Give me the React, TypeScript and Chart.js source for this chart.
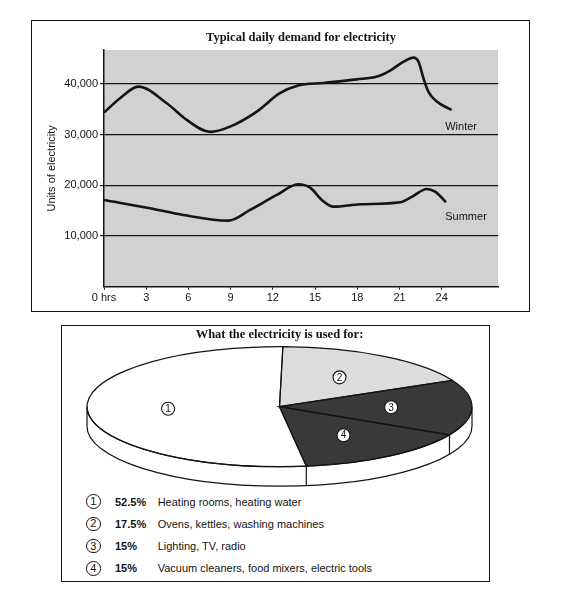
import React, { useEffect, useRef } from 'react';
import { Chart, registerables } from 'chart.js';

Chart.register(...registerables);

// ---------- data: daily demand ----------
const hourTicks = [0, 3, 6, 9, 12, 15, 18, 21, 24];
const unitTicks = [10000, 20000, 30000, 40000];

const winterHours = [0, 1.14, 2.44, 4.46, 5.88, 7.54, 8.96, 10.86, 12.5, 13.8, 15.6, 17.96, 19.4, 20.3, 21.3, 22.0, 22.35, 22.7, 23.05, 23.65, 24.7];
const winterUnits = [34350, 37190, 39480, 36200, 32900, 30540, 31580, 34550, 38180, 39700, 40200, 40900, 41450, 42580, 44400, 45200, 44400, 41140, 38500, 36520, 34880];

const summerHours = [0, 3.27, 5.64, 8.84, 10.38, 12.28, 13.8, 14.65, 15.48, 16.3, 18.2, 21.04, 21.9, 22.94, 23.53, 24.3];
const summerUnits = [17110, 15480, 14150, 13030, 15140, 18100, 20210, 19540, 17110, 15790, 16260, 16660, 17770, 19290, 18750, 16660];

const seasonNames = ['Winter', 'Summer'];

// ---------- data: what the electricity is used for ----------
const usageNumbers = ['1', '2', '3', '4'];
const usageShares = [52.5, 17.5, 15, 15];
const usageShareLabels = ['52.5%', '17.5%', '15%', '15%'];
const usageDescriptions = [
  'Heating rooms, heating water',
  'Ovens, kettles, washing machines',
  'Lighting, TV, radio',
  'Vacuum cleaners, food mixers, electric tools',
];

// ---------- styles ----------
const SANS = '"Liberation Sans", Arial, Helvetica, sans-serif';
const SERIF = '"Liberation Serif", "Times New Roman", serif';
const INK = '#141414';
const PLOT_GREY = '#d1d1d1';
const sliceColors = ['#ffffff', '#dcdcdc', '#393939', '#393939'];
const seasonLabelHours = [24.25, 24.25];
const seasonLabelUnits = [31500, 13800];
const PIE_STRETCH = 192.5 / 60;
const PIE_DEPTH = 19.5;

const plotBackground = {
  id: 'plotBackground',
  beforeDraw(chart: any) {
    const { ctx, chartArea: a } = chart;
    ctx.save();
    ctx.fillStyle = PLOT_GREY;
    ctx.fillRect(a.left, a.top, a.right - a.left, a.bottom - a.top);
    ctx.restore();
  },
};

const seasonLabels = {
  id: 'seasonLabels',
  afterDatasetsDraw(chart: any) {
    const { ctx, scales } = chart;
    ctx.save();
    ctx.font = `11px ${SANS}`;
    ctx.fillStyle = INK;
    ctx.textAlign = 'left';
    ctx.textBaseline = 'middle';
    seasonNames.forEach((name, i) => {
      ctx.fillText(name, scales.x.getPixelForValue(seasonLabelHours[i]), scales.y.getPixelForValue(seasonLabelUnits[i]));
    });
    ctx.restore();
  },
};

const pieDecor = {
  id: 'pieDecor',
  beforeDatasetsDraw(chart: any) {
    const arc = chart.getDatasetMeta(0).data[0];
    const ctx = chart.ctx;
    ctx.save();
    ctx.translate(arc.x, arc.y);
    ctx.scale(PIE_STRETCH, 1);
    ctx.translate(-arc.x, -arc.y);
  },
  afterDatasetsDraw(chart: any) {
    const ctx = chart.ctx;
    ctx.restore();
    const arcs = chart.getDatasetMeta(0).data;
    const cx = arcs[0].x;
    const cy = arcs[0].y;
    const ry = arcs[0].outerRadius;
    const rx = ry * PIE_STRETCH;
    ctx.save();
    ctx.lineWidth = 1.2;
    ctx.strokeStyle = INK;
    // side wall
    ctx.beginPath();
    ctx.ellipse(cx, cy, rx, ry, 0, 0, Math.PI, false);
    ctx.lineTo(cx - rx, cy + PIE_DEPTH);
    ctx.ellipse(cx, cy + PIE_DEPTH, rx, ry, 0, Math.PI, 0, true);
    ctx.closePath();
    ctx.fillStyle = '#ffffff';
    ctx.fill();
    ctx.stroke();
    // boundaries on the side wall
    arcs.forEach((a: any) => {
      const s = Math.sin(a.startAngle);
      if (s > 0.02) {
        const x = cx + rx * Math.cos(a.startAngle);
        const y = cy + ry * s;
        ctx.beginPath();
        ctx.moveTo(x, y);
        ctx.lineTo(x, y + PIE_DEPTH);
        ctx.stroke();
      }
    });
    // slice outlines on the top face
    arcs.forEach((a: any) => {
      ctx.beginPath();
      ctx.moveTo(cx, cy);
      ctx.ellipse(cx, cy, rx, ry, 0, a.startAngle, a.endAngle, false);
      ctx.closePath();
      ctx.stroke();
    });
    // circled numbers
    ctx.font = `10px ${SANS}`;
    ctx.textAlign = 'center';
    ctx.textBaseline = 'middle';
    arcs.forEach((a: any, i: number) => {
      const mid = (a.startAngle + a.endAngle) / 2;
      const x = cx + 0.58 * rx * Math.cos(mid);
      const y = cy + 0.58 * ry * Math.sin(mid);
      ctx.beginPath();
      ctx.arc(x, y, 6.5, 0, Math.PI * 2);
      ctx.fillStyle = '#ffffff';
      ctx.fill();
      ctx.lineWidth = 1.1;
      ctx.stroke();
      ctx.fillStyle = INK;
      ctx.fillText(usageNumbers[i], x, y + 0.5);
    });
    ctx.restore();
  },
};

function DemandChart() {
  const ref = useRef<HTMLCanvasElement>(null);
  useEffect(() => {
    if (!ref.current) return;
    const chart = new Chart(ref.current, {
      type: 'line',
      data: {
        datasets: [
          {
            label: seasonNames[0],
            data: winterHours.map((h, i) => ({ x: h, y: winterUnits[i] })),
            borderColor: INK,
            borderWidth: 2.6,
            pointRadius: 0,
            cubicInterpolationMode: 'monotone',
            fill: false,
          },
          {
            label: seasonNames[1],
            data: summerHours.map((h, i) => ({ x: h, y: summerUnits[i] })),
            borderColor: INK,
            borderWidth: 2.6,
            pointRadius: 0,
            cubicInterpolationMode: 'monotone',
            fill: false,
          },
        ],
      },
      options: {
        animation: false,
        responsive: false,
        events: [],
        layout: { padding: { left: 0, right: 30, top: 0, bottom: 0 } },
        plugins: {
          legend: { display: false },
          tooltip: { enabled: false },
          title: {
            display: true,
            text: 'Typical daily demand for electricity',
            fullSize: false,
            color: INK,
            font: { family: SERIF, size: 12.5, weight: 'bold' },
            padding: { top: 8.5, bottom: 4.5 },
          },
        },
        scales: {
          x: {
            type: 'linear',
            min: 0,
            max: 28,
            afterBuildTicks: (s: any) => {
              s.ticks = hourTicks.map((v) => ({ value: v }));
            },
            afterFit: (s: any) => {
              s.height = 23.3;
            },
            ticks: {
              autoSkip: false,
              maxRotation: 0,
              padding: 2,
              color: INK,
              font: { family: SANS, size: 11 },
              callback: (v: any) => (Number(v) === 0 ? '0 hrs' : String(v)),
            },
            grid: { drawOnChartArea: false, drawTicks: true, tickLength: 3, color: INK, lineWidth: 1 },
            border: { display: true, color: INK, width: 1.5 },
          },
          y: {
            type: 'linear',
            min: 0,
            max: 46700,
            afterBuildTicks: (s: any) => {
              s.ticks = unitTicks.map((v) => ({ value: v }));
            },
            afterFit: (s: any) => {
              s.width = 71;
            },
            ticks: {
              padding: 2,
              color: INK,
              font: { family: SANS, size: 11 },
              callback: (v: any) => Number(v).toLocaleString('en-US'),
            },
            grid: { color: INK, lineWidth: 1.2, tickLength: 4 },
            border: { display: true, color: INK, width: 1.5 },
            title: {
              display: true,
              text: 'Units of electricity',
              color: INK,
              font: { family: SANS, size: 11 },
              padding: { top: 12.4, bottom: 0 },
            },
          },
        },
      },
      plugins: [plotBackground, seasonLabels],
    } as any);
    return () => chart.destroy();
  }, []);
  return (
    <canvas
      ref={ref}
      width={495}
      height={288}
      style={{ position: 'absolute', left: 25, top: 14, width: 495, height: 288 }}
    />
  );
}

function UsageChart() {
  const ref = useRef<HTMLCanvasElement>(null);
  useEffect(() => {
    if (!ref.current) return;
    const chart = new Chart(ref.current, {
      type: 'pie',
      data: {
        labels: usageNumbers,
        datasets: [
          {
            data: usageShares,
            backgroundColor: sliceColors,
            borderWidth: 0,
            hoverOffset: 0,
            clip: false,
          },
        ],
      },
      options: {
        animation: false,
        responsive: false,
        events: [],
        rotation: 172,
        layout: { padding: { left: 8, right: 0, top: 0, bottom: 23.3 } },
        plugins: {
          legend: { display: false },
          tooltip: { enabled: false },
          title: {
            display: true,
            text: 'What the electricity is used for:',
            fullSize: false,
            color: INK,
            font: { family: SERIF, size: 12.5, weight: 'bold' },
            padding: { top: 1.5, bottom: 4.2 },
          },
        },
      },
      plugins: [pieDecor],
    } as any);
    return () => chart.destroy();
  }, []);
  return (
    <canvas
      ref={ref}
      width={427}
      height={164}
      style={{ position: 'absolute', left: 54, top: 318, width: 427, height: 164 }}
    />
  );
}

function UsageLegend() {
  return (
    <div style={{ position: 'absolute', left: 78, top: 482.6, fontFamily: SANS, fontSize: 11, color: INK }}>
      {usageNumbers.map((n, i) => (
        <div key={n} style={{ display: 'flex', alignItems: 'center', height: 22.2, whiteSpace: 'nowrap' }}>
          <span
            style={{
              display: 'inline-flex',
              alignItems: 'center',
              justifyContent: 'center',
              boxSizing: 'border-box',
              width: 14.6,
              height: 14.6,
              border: `1.3px solid ${INK}`,
              borderRadius: '50%',
              fontSize: 11,
              lineHeight: 1,
            }}
          >
            {n}
          </span>
          <span style={{ marginLeft: 14.4, width: 42.7, fontWeight: 'bold' }}>{usageShareLabels[i]}</span>
          <span>{usageDescriptions[i]}</span>
        </div>
      ))}
    </div>
  );
}

export default function App() {
  return (
    <div style={{ position: 'relative', width: 545, height: 594 }}>
      <div
        style={{
          position: 'absolute',
          left: 23,
          top: 12,
          width: 499,
          height: 292,
          boxSizing: 'border-box',
          border: `1.5px solid ${INK}`,
        }}
      />
      <DemandChart />
      <div
        style={{
          position: 'absolute',
          left: 53,
          top: 317,
          width: 429,
          height: 257,
          boxSizing: 'border-box',
          border: `1.3px solid ${INK}`,
        }}
      />
      <UsageChart />
      <UsageLegend />
    </div>
  );
}
